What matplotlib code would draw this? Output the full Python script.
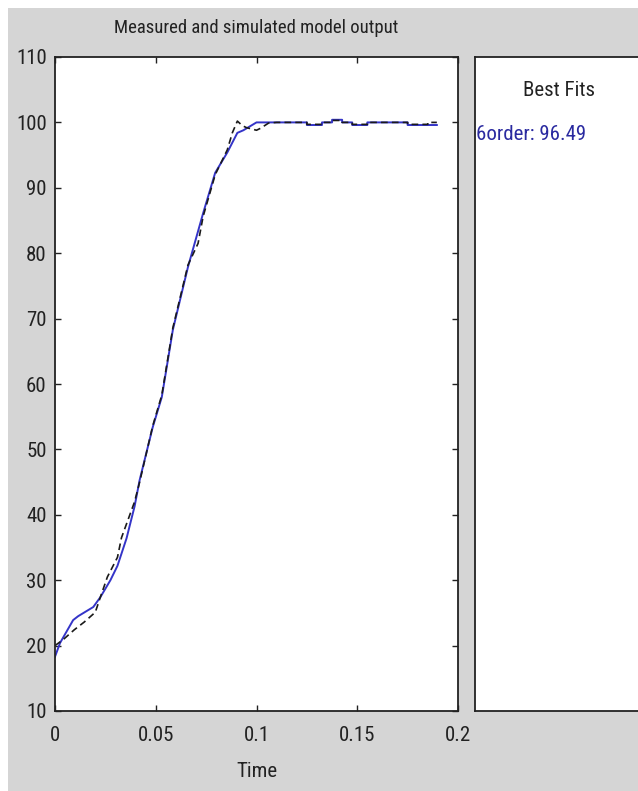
import matplotlib
matplotlib.use('Agg')
import matplotlib.pyplot as plt
from matplotlib.patches import Rectangle

plt.rcParams['font.family'] = ['Roboto Condensed', 'DejaVu Sans']

# simulated model output (blue, solid)
t_sim = [0, 0.0025, 0.009, 0.0115, 0.019, 0.0225, 0.0275, 0.031, 0.0355, 0.0395,
         0.042, 0.0485, 0.053, 0.0585, 0.066, 0.0735, 0.0795, 0.0855, 0.0905, 0.0935,
         0.1, 0.125, 0.125, 0.1325, 0.1325, 0.1375, 0.1375, 0.1425, 0.1425, 0.1475,
         0.1475, 0.155, 0.155, 0.175, 0.175, 0.1895]
y_sim = [18.3, 20.4, 23.9, 24.5, 25.9, 27.4, 30.0, 32.2, 36.4, 41.3,
         45.3, 53.4, 58.0, 68.3, 77.9, 86.1, 92.3, 95.4, 98.4, 98.8,
         100.0, 100.0, 99.6, 99.6, 100.0, 100.0, 100.4, 100.4, 100.0, 100.0,
         99.6, 99.6, 100.0, 100.0, 99.6, 99.6]

# measured output (black, dashed)
t_meas = [0, 0.004, 0.0095, 0.0145, 0.02, 0.0225, 0.026, 0.031, 0.033, 0.0395,
          0.042, 0.0485, 0.053, 0.0585, 0.066, 0.071, 0.0735, 0.0795, 0.0855, 0.088,
          0.0905, 0.093, 0.095, 0.1, 0.102, 0.106, 0.11, 0.125, 0.125, 0.1325,
          0.1325, 0.1375, 0.1375, 0.1425, 0.1425, 0.1475, 0.1475, 0.155, 0.155, 0.175,
          0.175, 0.185, 0.185, 0.1895]
y_meas = [20.0, 20.9, 22.4, 23.6, 25.1, 27.4, 30.5, 33.5, 36.5, 42.0,
          45.0, 53.6, 58.3, 68.6, 78.2, 81.5, 85.6, 92.0, 95.8, 98.4,
          100.2, 99.5, 99.2, 98.8, 99.1, 99.9, 100.0, 100.0, 99.7, 99.7,
          100.0, 100.0, 100.3, 100.3, 100.0, 100.0, 99.7, 99.7, 100.0, 100.0,
          99.7, 99.7, 100.0, 100.0]

x_ticks = [0, 0.05, 0.1, 0.15, 0.2]
x_labels = ['0', '0.05', '0.1', '0.15', '0.2']
y_ticks = [10, 20, 30, 40, 50, 60, 70, 80, 90, 100, 110]

fit_name = '6order: 96.49'

W, H = 638, 791
fig = plt.figure(figsize=(W / 100, H / 100), dpi=100, facecolor='#d5d5d5')
# thin white strip along the top and left edge of the screenshot
fig.patches.append(Rectangle((0, 1 - 8 / H), 1, 8 / H, transform=fig.transFigure,
                             facecolor='white', edgecolor='none', zorder=-1))
fig.patches.append(Rectangle((0, 0), 8 / W, 1, transform=fig.transFigure,
                             facecolor='white', edgecolor='none', zorder=-1))

ax = fig.add_axes([55 / W, 1 - 711 / H, 403 / W, 654 / H])
ax.plot(t_sim, y_sim, color='#3434c8', linewidth=1.4)
ax.plot(t_meas, y_meas, color='#1a1a1a', linewidth=1.2, linestyle=(0, (4, 2.5)))
ax.set_xlim(0, 0.2)
ax.set_ylim(10, 110)
ax.set_xticks(x_ticks)
ax.set_xticklabels(x_labels)
ax.set_yticks(y_ticks)
ax.tick_params(direction='in', top=True, right=True, length=4, width=1,
               labelsize=15, pad=6, colors='#222222', labelcolor='#222222')
ax.tick_params(axis='x', pad=11)
for s in ax.spines.values():
    s.set_linewidth(1.3)
    s.set_color('#222222')
ax.set_title('Measured and simulated model output', fontsize=13.5, pad=17, color='#222222')
ax.set_xlabel('Time', fontsize=15, labelpad=12, color='#222222')

# right panel with best fits
ax2 = fig.add_axes([475 / W, 1 - 711 / H, 0.4, 654 / H])
ax2.set_xticks([])
ax2.set_yticks([])
for s in ax2.spines.values():
    s.set_linewidth(1.3)
    s.set_color('#222222')
fig.text(559 / W, 1 - 90 / H, 'Best Fits', fontsize=15, color='#222222',
         ha='center', va='center')
fig.text(476 / W, 1 - 135 / H, fit_name, fontsize=15, color='#2a2aa0',
         ha='left', va='center')

plt.savefig('out.png', dpi=100)
